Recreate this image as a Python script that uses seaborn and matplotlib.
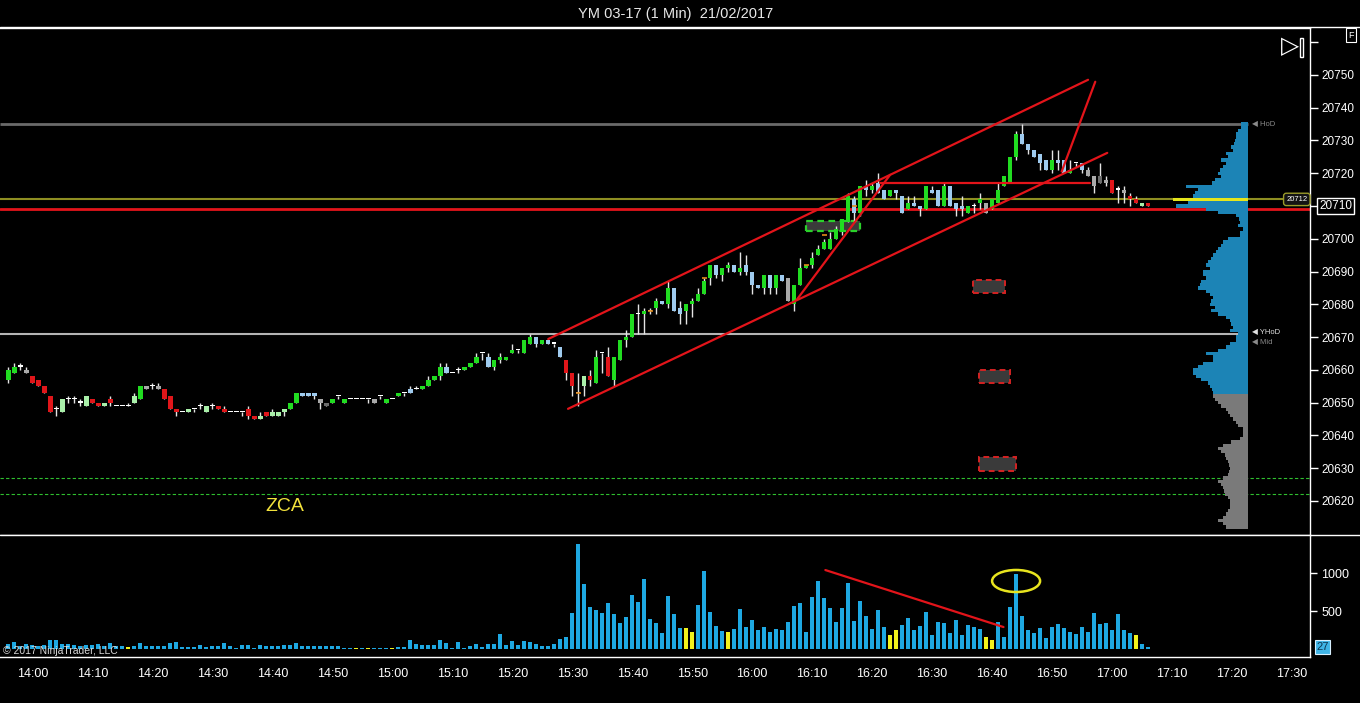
import matplotlib
matplotlib.use("Agg")
import matplotlib.pyplot as plt
import matplotlib.transforms as mtransforms
from matplotlib.lines import Line2D
from matplotlib.patches import Rectangle, Ellipse
import numpy as np
import pandas as pd
import seaborn as sns

# ---------------------------------------------------------------- data
FIRST_BAR = "2017-02-21 13:56"
SESSION_REF = "2017-02-21 14:00"

OPEN = [
    20657, 20659, 20661, 20660, 20658, 20657, 20655, 20652, 20648, 20647,
    20651, 20651, 20650, 20649, 20651, 20650, 20649, 20651, 20649, 20649,
    20649, 20650, 20651, 20655, 20655, 20655, 20654, 20652, 20648, 20647,
    20647, 20648, 20649, 20647, 20649, 20649, 20648, 20647, 20647, 20647,
    20648, 20646, 20645, 20647, 20646, 20646, 20647, 20648, 20650, 20653,
    20652, 20653, 20651, 20650, 20650, 20652, 20650, 20651, 20651, 20651,
    20651, 20651, 20652, 20650, 20651, 20652, 20653, 20653, 20654, 20654,
    20655, 20657, 20658, 20661, 20659, 20660, 20660, 20661, 20662, 20665,
    20664, 20661, 20663, 20663, 20665, 20666, 20665, 20668, 20670, 20668,
    20669, 20668, 20667, 20663, 20659, 20653, 20655, 20658, 20656, 20665,
    20664, 20657, 20663, 20669, 20670, 20677, 20677, 20678, 20679, 20681,
    20680, 20685, 20679, 20678, 20680, 20681, 20683, 20688, 20692, 20689,
    20691, 20692, 20690, 20692, 20690, 20686, 20685, 20689, 20685, 20689,
    20688, 20680, 20686, 20691, 20692, 20695, 20697, 20697, 20700, 20702,
    20705, 20712, 20708, 20716, 20715, 20717, 20715, 20713, 20715, 20713,
    20709, 20711, 20710, 20709, 20715, 20715, 20710, 20716, 20711, 20710,
    20708, 20710, 20711, 20711, 20709, 20711, 20716, 20717, 20725, 20732,
    20729, 20727, 20726, 20724, 20721, 20724, 20724, 20720, 20723, 20723,
    20721, 20719, 20719, 20718, 20718, 20715, 20715, 20713, 20712, 20710,
    20711,
]
HIGH = [
    20661, 20662, 20662, 20661, 20658, 20657, 20655, 20652, 20649, 20651,
    20652, 20652, 20651, 20652, 20651, 20650, 20650, 20652, 20649, 20649,
    20650, 20653, 20655, 20655, 20656, 20656, 20654, 20652, 20648, 20647,
    20648, 20648, 20650, 20649, 20650, 20649, 20649, 20647, 20647, 20647,
    20649, 20646, 20647, 20647, 20648, 20647, 20648, 20650, 20653, 20653,
    20653, 20653, 20651, 20650, 20651, 20652, 20651, 20651, 20651, 20651,
    20651, 20651, 20652, 20651, 20651, 20653, 20653, 20655, 20655, 20655,
    20658, 20658, 20662, 20662, 20659, 20661, 20661, 20662, 20665, 20665,
    20665, 20663, 20665, 20664, 20668, 20666, 20669, 20671, 20670, 20669,
    20669, 20668, 20667, 20663, 20659, 20659, 20658, 20660, 20666, 20665,
    20667, 20664, 20669, 20672, 20677, 20680, 20679, 20679, 20682, 20681,
    20687, 20685, 20681, 20680, 20682, 20685, 20688, 20692, 20692, 20691,
    20693, 20692, 20696, 20695, 20690, 20686, 20689, 20689, 20689, 20689,
    20688, 20686, 20694, 20692, 20696, 20698, 20700, 20702, 20704, 20706,
    20714, 20713, 20716, 20718, 20717, 20720, 20715, 20715, 20715, 20713,
    20713, 20713, 20710, 20716, 20716, 20715, 20717, 20716, 20711, 20713,
    20710, 20711, 20714, 20711, 20712, 20717, 20719, 20725, 20733, 20735,
    20729, 20727, 20726, 20724, 20727, 20727, 20724, 20724, 20723, 20723,
    20722, 20719, 20723, 20719, 20718, 20716, 20716, 20714, 20713, 20711,
    20711,
]
LOW = [
    20656, 20659, 20660, 20659, 20656, 20655, 20653, 20647, 20646, 20647,
    20650, 20650, 20649, 20649, 20650, 20649, 20649, 20649, 20649, 20649,
    20649, 20650, 20651, 20654, 20654, 20654, 20651, 20648, 20646, 20647,
    20647, 20647, 20648, 20647, 20648, 20648, 20647, 20647, 20647, 20646,
    20645, 20645, 20645, 20646, 20646, 20646, 20646, 20648, 20650, 20652,
    20652, 20651, 20648, 20649, 20650, 20651, 20650, 20651, 20651, 20651,
    20650, 20650, 20651, 20650, 20651, 20652, 20652, 20653, 20654, 20654,
    20655, 20657, 20657, 20659, 20659, 20659, 20660, 20661, 20662, 20663,
    20661, 20660, 20662, 20663, 20665, 20665, 20665, 20668, 20667, 20668,
    20668, 20667, 20664, 20657, 20652, 20649, 20652, 20655, 20656, 20659,
    20658, 20655, 20663, 20667, 20670, 20671, 20671, 20677, 20677, 20680,
    20679, 20678, 20674, 20674, 20676, 20681, 20683, 20686, 20688, 20687,
    20690, 20690, 20689, 20689, 20683, 20685, 20683, 20683, 20683, 20687,
    20681, 20678, 20686, 20691, 20691, 20695, 20697, 20697, 20700, 20701,
    20705, 20705, 20707, 20713, 20714, 20714, 20712, 20713, 20712, 20708,
    20709, 20710, 20707, 20709, 20714, 20710, 20710, 20710, 20707, 20707,
    20708, 20708, 20709, 20708, 20709, 20711, 20716, 20717, 20724, 20729,
    20726, 20725, 20721, 20721, 20720, 20721, 20720, 20720, 20722, 20720,
    20719, 20714, 20717, 20716, 20714, 20711, 20711, 20710, 20711, 20710,
    20710,
]
CLOSE = [
    20660, 20661, 20661, 20659, 20656, 20655, 20653, 20647, 20648, 20651,
    20651, 20651, 20650, 20652, 20650, 20649, 20650, 20650, 20649, 20649,
    20649, 20652, 20655, 20654, 20655, 20654, 20651, 20648, 20647, 20647,
    20648, 20648, 20649, 20649, 20649, 20648, 20647, 20647, 20647, 20647,
    20646, 20645, 20646, 20646, 20647, 20647, 20648, 20650, 20653, 20652,
    20653, 20652, 20650, 20649, 20651, 20652, 20651, 20651, 20651, 20651,
    20651, 20650, 20652, 20651, 20651, 20653, 20653, 20654, 20654, 20655,
    20657, 20658, 20661, 20659, 20659, 20660, 20661, 20662, 20664, 20665,
    20661, 20663, 20664, 20664, 20666, 20666, 20669, 20670, 20668, 20669,
    20668, 20668, 20664, 20659, 20655, 20653, 20658, 20657, 20664, 20665,
    20658, 20664, 20669, 20670, 20677, 20677, 20678, 20678, 20681, 20680,
    20685, 20678, 20677, 20680, 20681, 20683, 20687, 20692, 20689, 20691,
    20692, 20690, 20691, 20690, 20686, 20685, 20689, 20685, 20689, 20687,
    20681, 20686, 20691, 20692, 20694, 20697, 20699, 20700, 20703, 20706,
    20713, 20708, 20716, 20715, 20716, 20714, 20712, 20715, 20714, 20708,
    20711, 20710, 20709, 20716, 20714, 20710, 20716, 20710, 20709, 20709,
    20710, 20710, 20712, 20708, 20712, 20715, 20719, 20725, 20732, 20729,
    20727, 20725, 20723, 20721, 20724, 20723, 20720, 20721, 20723, 20721,
    20719, 20716, 20717, 20717, 20714, 20715, 20714, 20712, 20711, 20711,
    20710,
]
# candle colouring state (G up, g weak up, R down, B pullback, A/D neutral, W doji)
CANDLE_STATE = (
    "GGWARRRRWg" "WWWgRRgRWW" "WgGAWARRRW" "gWWgWRRWWW" "RRgRgggGGB"
    "BBADGWGWWW" "WAWGWGWBWG" "GGGBWWGGGW" "BGGGGWGGBG" "BWBRRWgRGW"
    "RGGGGWGWGB" "GBBGGGGGBG" "GBGBBBGBGB" "AGGGGGGGGG" "GBGBGBBGBB"
    "GBBGBBGBBB" "GWGAGGGGGB" "BBBBGBBGWB" "AADARWARRg" "R"
)
VOLUME = [
    66, 96, 44, 66, 53, 44, 53, 123, 123, 66,
    66, 53, 44, 53, 53, 66, 44, 79, 35, 35,
    22, 35, 79, 35, 35, 35, 44, 79, 92, 22,
    22, 22, 53, 22, 35, 35, 75, 44, 13, 53,
    53, 13, 53, 35, 35, 35, 53, 53, 79, 35,
    35, 35, 35, 35, 35, 44, 13, 13, 13, 13,
    13, 13, 13, 13, 13, 22, 22, 118, 66, 53,
    53, 53, 118, 79, 13, 92, 13, 35, 66, 22,
    61, 61, 197, 53, 105, 53, 105, 92, 66, 35,
    35, 66, 132, 158, 474, 1380, 855, 548, 513, 474,
    605, 460, 342, 421, 710, 618, 921, 395, 342, 210,
    697, 460, 276, 276, 224, 579, 1026, 487, 303, 237,
    224, 263, 526, 289, 382, 250, 289, 224, 263, 254,
    355, 566, 605, 224, 684, 895, 671, 539, 355, 539,
    868, 368, 632, 434, 263, 513, 289, 184, 250, 316,
    408, 250, 303, 487, 184, 355, 342, 210, 382, 184,
    316, 289, 263, 158, 118, 355, 158, 553, 987, 434,
    250, 210, 276, 145, 289, 329, 276, 224, 197, 289,
    224, 474, 329, 342, 250, 460, 250, 210, 184, 66,
    27,
]
YELLOW_BARS = [21, 59, 61, 65, 114, 115, 121, 148, 149, 164, 165, 189]
ORANGE_TICKS = [(96, 20653), (108, 20678), (117, 20688), (134, 20692), (137, 20701), (142, 20710)]

PROFILE_LOW = 20612
PROFILE = [
    22, 25, 30, 25, 22, 20, 18, 18, 18, 20,
    23, 24, 25, 27, 30, 25, 20, 19, 18, 19,
    20, 22, 23, 27, 30, 25, 17, 8, 5, 5,
    5, 10, 12, 15, 18, 20, 22, 27, 30, 33,
    35, 35, 36, 38, 40, 47, 52, 55, 55, 50,
    45, 35, 35, 42, 30, 22, 18, 12, 12, 10,
    18, 15, 17, 18, 22, 30, 37, 33, 38, 37,
    35, 38, 42, 50, 48, 47, 42, 45, 45, 38,
    42, 40, 37, 35, 32, 30, 27, 25, 20, 8,
    8, 5, 10, 8, 9, 12, 30, 42, 72, 60,
    75, 55, 53, 50, 62, 36, 33, 27, 30, 28,
    25, 22, 27, 20, 22, 15, 17, 14, 13, 12,
    12, 10, 7, 7,
]
PROFILE_SPLIT = 20653
POC = 20712

TIME_LABELS = ["14:00", "14:10", "14:20", "14:30", "14:40", "14:50", "15:00", "15:10",
               "15:20", "15:30", "15:40", "15:50", "16:00", "16:10", "16:20", "16:30",
               "16:40", "16:50", "17:00", "17:10", "17:20", "17:30"]
PRICE_TICKS = [20620, 20630, 20640, 20650, 20660, 20670, 20680, 20690, 20700,
               20710, 20720, 20730, 20740, 20750, 20760]
VOLUME_TICKS = [500, 1000]

HOD, YHOD, MID = 20735, 20671, 20669
VALUE_LINE, RED_LEVEL, LAST_PRICE = 20712, 20709, 20710
ZONE_LINES = [20627, 20622]

STATE_COLORS = {"G": "#21dc21", "g": "#a9efa9", "R": "#e0161a", "B": "#9fcbef",
                "A": "#a9a9a9", "D": "#6c6c6c", "W": "#ffffff"}

# ---------------------------------------------------------------- style
sns.set_theme(style="dark", rc={
    "figure.facecolor": "black", "axes.facecolor": "black",
    "axes.edgecolor": "white", "axes.grid": False,
    "xtick.color": "white", "ytick.color": "white", "text.color": "white",
})
plt.rcParams["font.family"] = ["Liberation Sans", "DejaVu Sans"]

W, H = 1360, 703


def frame(x0, y0, x1, y1):
    return [x0 / W, 1 - y1 / H, (x1 - x0) / W, (y1 - y0) / H]


ref = pd.Timestamp(SESSION_REF)
times = pd.date_range(FIRST_BAR, periods=len(OPEN), freq="min")
t = ((times - ref).total_seconds() / 60).to_numpy()
o, h, l, c = (np.array(a, dtype=float) for a in (OPEN, HIGH, LOW, CLOSE))
tick_pos = [(pd.Timestamp("2017-02-21 " + s) - ref).total_seconds() / 60 for s in TIME_LABELS]
XLIM = (-5.4, 213.0)
PROFILE_RIGHT = 202.7

fig = plt.figure(figsize=(13.6, 7.03), dpi=100)
ax_p = fig.add_axes(frame(0, 28, 1310, 535))
ax_v = fig.add_axes(frame(0, 535, 1310, 657))

# ---------------------------------------------------------------- price panel
ax_p.axhline(RED_LEVEL, color="#e3141a", lw=2, zorder=1)
ax_p.hlines(VALUE_LINE, XLIM[0], 208.5, color="#8e8e22", lw=1.5, zorder=1)
ax_p.hlines(HOD, XLIM[0], PROFILE_RIGHT, color="#6a6a6a", lw=2, zorder=1)
ax_p.hlines(YHOD, XLIM[0], PROFILE_RIGHT, color="#b4b4b4", lw=1.5, zorder=1)
for z in ZONE_LINES:
    ax_p.axhline(z, color="#2fbf2f", lw=0.8, ls=(0, (3, 2)), zorder=1)

# volume profile
levels = PROFILE_LOW + np.arange(len(PROFILE))
pcol = ["#e6e61c" if p == POC else ("#1c84b6" if p >= PROFILE_SPLIT else "#7a7a7a") for p in levels]
ax_p.barh(levels, -np.array(PROFILE) * 12.5 / max(PROFILE), left=PROFILE_RIGHT,
          height=1.0, color=pcol, linewidth=0, zorder=2)

# candles
cols = [STATE_COLORS[s] for s in CANDLE_STATE]
ax_p.vlines(t, l, h, color="#e4e4e4", lw=1, zorder=3)
body = np.maximum(np.abs(c - o), 0.35)
ax_p.bar(t, body, bottom=np.minimum(o, c), width=0.75, color=cols, linewidth=0, zorder=4)
for i, p in ORANGE_TICKS:
    ax_p.hlines(p, t[i - 1] - 0.4, t[i - 1] + 0.4, color="#e08a1a", lw=1.2, zorder=5)

# drawing objects
for (x0, y0), (x1, y1) in [((86.0, 20669.4), (176.0, 20748.5)),
                           ((89.3, 20648.1), (179.2, 20726.2)),
                           ((127.4, 20681.3), (143.0, 20719.5)),
                           ((141.3, 20717.0), (176.3, 20717.0)),
                           ((171.6, 20720.5), (177.2, 20747.9))]:
    ax_p.plot([x0, x1], [y0, y1], color="#e3141a", lw=1.6, zorder=6)

ax_p.add_patch(Rectangle((129.0, 20702.4), 9.0, 3.0, fc="#3a3a3a", ec="#2ad12a",
                         lw=1.6, ls=(0, (3, 2)), zorder=2))
for x0, x1, y0, y1 in [(156.8, 162.2, 20683.5, 20687.4), (157.8, 163.0, 20656.0, 20660.0),
                       (157.8, 164.0, 20629.2, 20633.4)]:
    ax_p.add_patch(Rectangle((x0, y0), x1 - x0, y1 - y0, fc="#3a3a3a", ec="#d42222",
                             lw=1.4, ls=(0, (3, 2)), zorder=2))

ax_p.text(42.1, 20618.2, "ZCA", color="#f2e13c", fontsize=14, ha="center", va="center")
ax_p.text(203.3, HOD, "◀ HoD", color="#8a8a8a", fontsize=5.5, va="center")
ax_p.text(203.3, YHOD + 0.4, "◀ YHoD", color="#e0e0e0", fontsize=5.5, va="center")
ax_p.text(203.3, MID - 0.6, "◀ Mid", color="#8a8a8a", fontsize=5.5, va="center")
ax_p.text(210.8, VALUE_LINE, f"{VALUE_LINE}", color="white", fontsize=5.5, ha="center",
          va="center", zorder=7,
          bbox=dict(boxstyle="round,pad=0.35", fc="#141414", ec="#9a9a2a", lw=1))

ax_p.set_xlim(*XLIM)
ax_p.set_ylim(20609.6, 20764.3)
ax_p.set_xticks([])
ax_p.yaxis.tick_right()
ax_p.set_yticks(PRICE_TICKS)
ax_p.set_yticklabels([str(v) if v < 20760 else "" for v in PRICE_TICKS])
ax_p.tick_params(axis="y", colors="white", direction="out", length=6, width=1,
                 labelsize=8.5, pad=2)
ax_p.spines["left"].set_visible(False)
for side in ("top", "bottom", "right"):
    ax_p.spines[side].set_color("white")
    ax_p.spines[side].set_linewidth(1)

mixed = mtransforms.blended_transform_factory(ax_p.transAxes, ax_p.transData)
ax_p.text(1.0195, LAST_PRICE, f"{LAST_PRICE}", transform=mixed, color="white",
          fontsize=8.5, ha="center", va="center", zorder=8,
          bbox=dict(boxstyle="square,pad=0.2", fc="black", ec="white", lw=1))

# ---------------------------------------------------------------- volume panel
vol_df = pd.DataFrame({"t": t, "volume": VOLUME,
                       "kind": ["flag" if i + 1 in YELLOW_BARS else "norm" for i in range(len(t))]})
sns.barplot(data=vol_df, x="t", y="volume", hue="kind",
            palette={"norm": "#1ea8e2", "flag": "#f2f21c"}, native_scale=True,
            dodge=False, width=0.7, saturation=1, errorbar=None, legend=False,
            linewidth=0, ax=ax_v)
ax_v.plot([132.2, 161.9], [1039, 289], color="#e3141a", lw=1.6)
ax_v.add_patch(Ellipse((164.0, 895), 8.0, 290, fc="none", ec="#e8e41e", lw=1.8))

ax_v.set_xlim(*XLIM)
ax_v.set_ylim(-105, 1500)
ax_v.set_xlabel("")
ax_v.set_ylabel("")
ax_v.yaxis.tick_right()
ax_v.set_yticks(VOLUME_TICKS)
ax_v.set_yticklabels([str(v) for v in VOLUME_TICKS])
ax_v.set_xticks(tick_pos)
ax_v.set_xticklabels(TIME_LABELS)
ax_v.tick_params(axis="both", colors="white", direction="out", length=5, width=1,
                 labelsize=9, pad=3)
ax_v.spines["left"].set_visible(False)
ax_v.spines["top"].set_visible(False)
for side in ("bottom", "right"):
    ax_v.spines[side].set_color("white")
    ax_v.spines[side].set_linewidth(1)

vmixed = mtransforms.blended_transform_factory(ax_v.transAxes, ax_v.transData)
ax_v.text(1.0095, VOLUME[-1], f"{VOLUME[-1]}", transform=vmixed, color="#0d3550",
          fontsize=8, ha="center", va="center",
          bbox=dict(boxstyle="square,pad=0.15", fc="#3fb4e6", ec="#d8f0ff", lw=0.8))

# ---------------------------------------------------------------- chrome
fig.text(676 / W, 1 - 14 / H, "YM 03-17 (1 Min)  21/02/2017", color="#e8e8e8",
         fontsize=10.5, ha="center", va="center")
fig.text(3 / W, 1 - 651 / H, "© 2017 NinjaTrader, LLC", color="#d8d8d8", fontsize=7.5,
         va="center")
fig.add_artist(Line2D([0, 1], [1 - 27 / H] * 2, color="white", lw=1))
fig.add_artist(Line2D([0, 1], [1 - 535 / H] * 2, color="white", lw=1))
fig.text(1290 / W, 1 - 47 / H, "▷", color="white", fontsize=17, ha="center", va="center")
fig.add_artist(Rectangle((1300 / W, 1 - 57 / H), 3 / W, 19 / H, fc="none", ec="white",
                         lw=1, transform=fig.transFigure))
fig.text(1351 / W, 1 - 35 / H, "F", color="white", fontsize=6.5, ha="center", va="center",
         bbox=dict(boxstyle="square,pad=0.25", fc="black", ec="white", lw=0.8))

fig.savefig("out.png", dpi=100, facecolor="black")
